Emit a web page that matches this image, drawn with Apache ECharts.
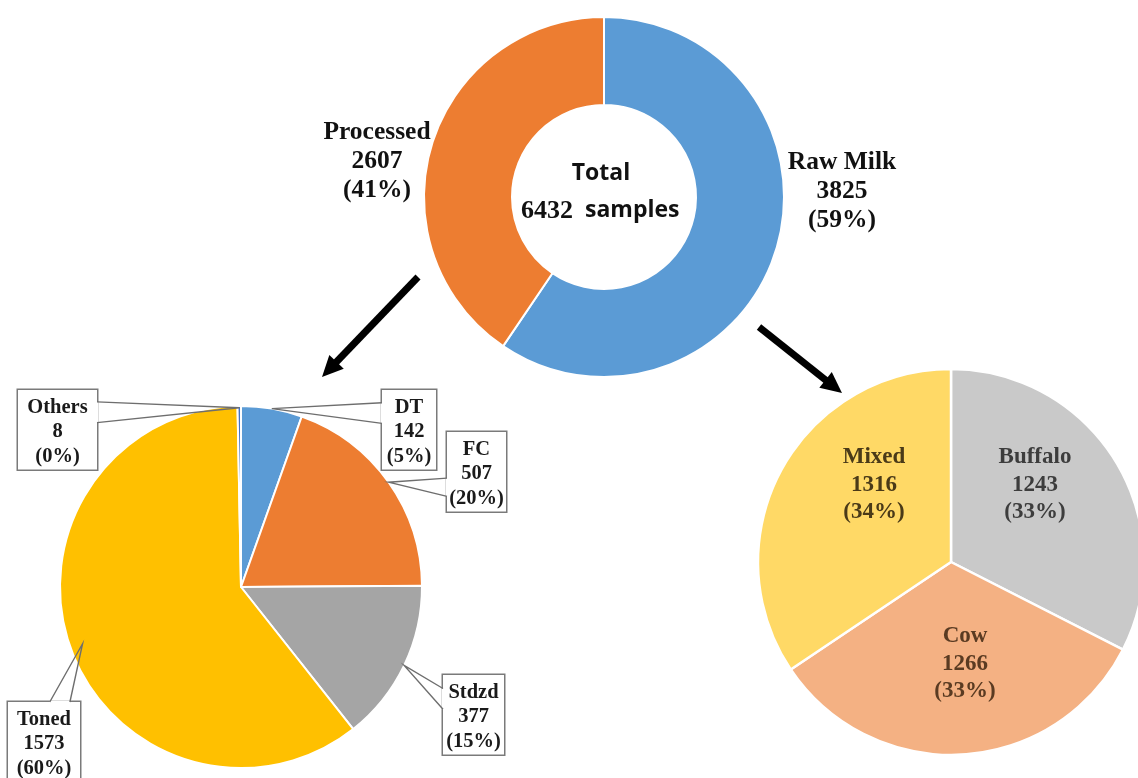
<!DOCTYPE html>
<html>
<head>
<meta charset="utf-8">
<script src="https://cdn.jsdelivr.net/npm/echarts@6/dist/echarts.min.js"></script>
<style>
html,body{margin:0;padding:0;background:#fff;}
#c{width:1138px;height:778px;}
</style>
</head>
<body>
<div id="c"></div>
<script>
// ---- data ----
const totalNames = ['Raw Milk', 'Processed'];
const totalValues = [3825, 2607];
const totalPct = ['59%', '41%'];

const procNames = ['DT', 'FC', 'Stdzd', 'Toned', 'Others'];
const procValues = [142, 507, 377, 1573, 8];
const procPct = ['5%', '20%', '15%', '60%', '0%'];

const rawNames = ['Buffalo', 'Cow', 'Mixed'];
const rawValues = [1243, 1266, 1316];
const rawPct = ['33%', '33%', '34%'];

const totalSamples = 6432;

// ---- styles / layout (kept apart from data) ----
const totalColors = ['#5B9BD5', '#ED7D31'];
const procColors = ['#5B9BD5', '#ED7D31', '#A5A5A5', '#FFC000', '#4472C4'];
const rawColors = ['#C9C9C9', '#F4B183', '#FFD966'];
const rawTextColors = ['#3d3d3d', '#5a3b22', '#4a3a18'];

const totalLabelPos = [[842, 191], [377, 161]];
const rawLabelPos = [[1035, 485], [965, 664], [874, 485]];

// callout boxes: [left, top, width], wedge side and fraction range, anchor radius factor
const procBox = [[382, 390, 54], [447, 432, 59], [443, 675, 61], [8, 702, 72], [18, 390, 79]];
const procWedge = [['left', 0.16, 0.42], ['left', 0.58, 0.81], ['left', 0.17, 0.43], ['top', 0.58, 0.86], ['right', 0.15, 0.41]];
const procAnchorK = [1.0, 1.0, 1.0, 0.93, 0.99];
const boxLineH = 24.5, boxPad = [5, 2, 1, 2];
const boxH = boxLineH * 3 + boxPad[0] + boxPad[2];

const serif = '"Liberation Serif", "Times New Roman", serif';
const sans = '"Open Sans", "Liberation Sans", sans-serif';

const chart = echarts.init(document.getElementById('c'), null, {renderer: 'canvas'});

function arrow(x0, y0, x1, y1) {
  const dx = x1 - x0, dy = y1 - y0, L = Math.hypot(dx, dy);
  const ux = dx / L, uy = dy / L, px = -uy, py = ux;
  const hl = 21, hw = 10;
  const bx = x1 - ux * hl, by = y1 - uy * hl;
  return [
    {type: 'line', shape: {x1: x0, y1: y0, x2: bx + ux * 2, y2: by + uy * 2},
     style: {stroke: '#000', lineWidth: 7, lineCap: 'butt'}, z: 10},
    {type: 'polygon', shape: {points: [[x1, y1], [bx + px * hw, by + py * hw], [bx - px * hw, by - py * hw]]},
     style: {fill: '#000'}, z: 10}
  ];
}

const baseGraphic = [
  ...arrow(418, 277, 322, 377),
  ...arrow(759, 327, 842, 393),
  {type: 'text', z: 20, x: 601, y: 173,
   style: {text: 'Total', font: 'bold 23px ' + sans, fill: '#111', align: 'center', verticalAlign: 'middle'}},
  {type: 'text', z: 20, x: 521, y: 211,
   style: {text: String(totalSamples), font: 'bold 26px ' + serif, fill: '#111', align: 'left', verticalAlign: 'middle'}},
  {type: 'text', z: 20, x: 585, y: 210,
   style: {text: 'samples', font: 'bold 23px ' + sans, fill: '#111', align: 'left', verticalAlign: 'middle'}}
];

const option = {
  animation: false,
  backgroundColor: '#ffffff',
  graphic: baseGraphic,
  series: [
    {
      type: 'pie',
      center: [604, 197],
      radius: [92, 180],
      startAngle: 90,
      clockwise: true,
      silent: true,
      itemStyle: {borderColor: '#fff', borderWidth: 2},
      label: {
        show: true,
        position: 'outside',
        fontFamily: serif, fontWeight: 'bold', fontSize: 25.5, lineHeight: 29,
        color: '#111', align: 'center',
        formatter: p => p.name + '\n' + p.value + '\n(' + totalPct[p.dataIndex] + ')'
      },
      labelLine: {show: false},
      labelLayout: p => ({x: totalLabelPos[p.dataIndex][0], y: totalLabelPos[p.dataIndex][1], align: 'center', verticalAlign: 'middle'}),
      data: totalNames.map((n, i) => ({name: n, value: totalValues[i], itemStyle: {color: totalColors[i]}}))
    },
    {
      type: 'pie',
      center: [241, 587],
      radius: [0, 181],
      startAngle: 90,
      clockwise: true,
      silent: true,
      minShowLabelAngle: 0,
      avoidLabelOverlap: false,
      itemStyle: {borderColor: '#fff', borderWidth: 2},
      label: {
        show: true,
        position: 'outside',
        fontFamily: serif, fontWeight: 'bold', fontSize: 20.5, lineHeight: boxLineH,
        color: '#1a1a1a', align: 'center', overflow: 'none',
        backgroundColor: '#fff', borderColor: '#7a7a7a', borderWidth: 1.5,
        padding: boxPad,
        formatter: p => p.name + '\n' + p.value + '\n(' + procPct[p.dataIndex] + ')'
      },
      labelLine: {show: false},
      labelLayout: p => {
        const b = procBox[p.dataIndex];
        return {x: b[0] + b[2] / 2, y: b[1], align: 'center', verticalAlign: 'top'};
      },
      data: procNames.map((n, i) => ({
        name: n, value: procValues[i], itemStyle: {color: procColors[i]},
        label: {width: procBox[i][2] - boxPad[1] - boxPad[3]}
      }))
    },
    {
      type: 'pie',
      center: [951, 562],
      radius: [0, 193],
      startAngle: 90,
      clockwise: true,
      silent: true,
      itemStyle: {borderColor: '#fff', borderWidth: 2.5},
      label: {
        show: true,
        position: 'inside',
        fontFamily: serif, fontWeight: 'bold', fontSize: 23, lineHeight: 27.5,
        align: 'center',
        formatter: p => p.name + '\n' + p.value + '\n(' + rawPct[p.dataIndex] + ')'
      },
      labelLine: {show: false},
      labelLayout: p => ({x: rawLabelPos[p.dataIndex][0], y: rawLabelPos[p.dataIndex][1], align: 'center', verticalAlign: 'middle'}),
      data: rawNames.map((n, i) => ({name: n, value: rawValues[i], itemStyle: {color: rawColors[i]}, label: {color: rawTextColors[i]}}))
    }
  ]
};
chart.setOption(option);

// callout wedges: anchored at each slice's mid-angle from the library's own pie layout
const procData = chart.getModel().getSeriesByIndex(1).getData();
const callouts = [];
for (let i = 0; i < procNames.length; i++) {
  const lay = procData.getItemLayout(i);
  const mid = (lay.startAngle + lay.endAngle) / 2;
  const k = procAnchorK[i];
  const tip = [lay.cx + Math.cos(mid) * lay.r * k, lay.cy + Math.sin(mid) * lay.r * k];
  const b = procBox[i], w = procWedge[i];
  const L = b[0], T = b[1], R = b[0] + b[2], B = b[1] + boxH;
  let p1, p2;
  if (w[0] === 'left') { p1 = [L, T + (B - T) * w[1]]; p2 = [L, T + (B - T) * w[2]]; }
  else if (w[0] === 'right') { p1 = [R, T + (B - T) * w[1]]; p2 = [R, T + (B - T) * w[2]]; }
  else { p1 = [L + (R - L) * w[1], T]; p2 = [L + (R - L) * w[2], T]; }
  callouts.push({type: 'line', z: 50, shape: {x1: p1[0], y1: p1[1], x2: p2[0], y2: p2[1]},
    style: {stroke: '#fff', lineWidth: 3}});
  callouts.push({type: 'polyline', z: 51, shape: {points: [p1, tip, p2]},
    style: {stroke: '#6e6e6e', lineWidth: 1.4, fill: null}});
}
chart.setOption({graphic: baseGraphic.concat(callouts)});
</script>
</body>
</html>
